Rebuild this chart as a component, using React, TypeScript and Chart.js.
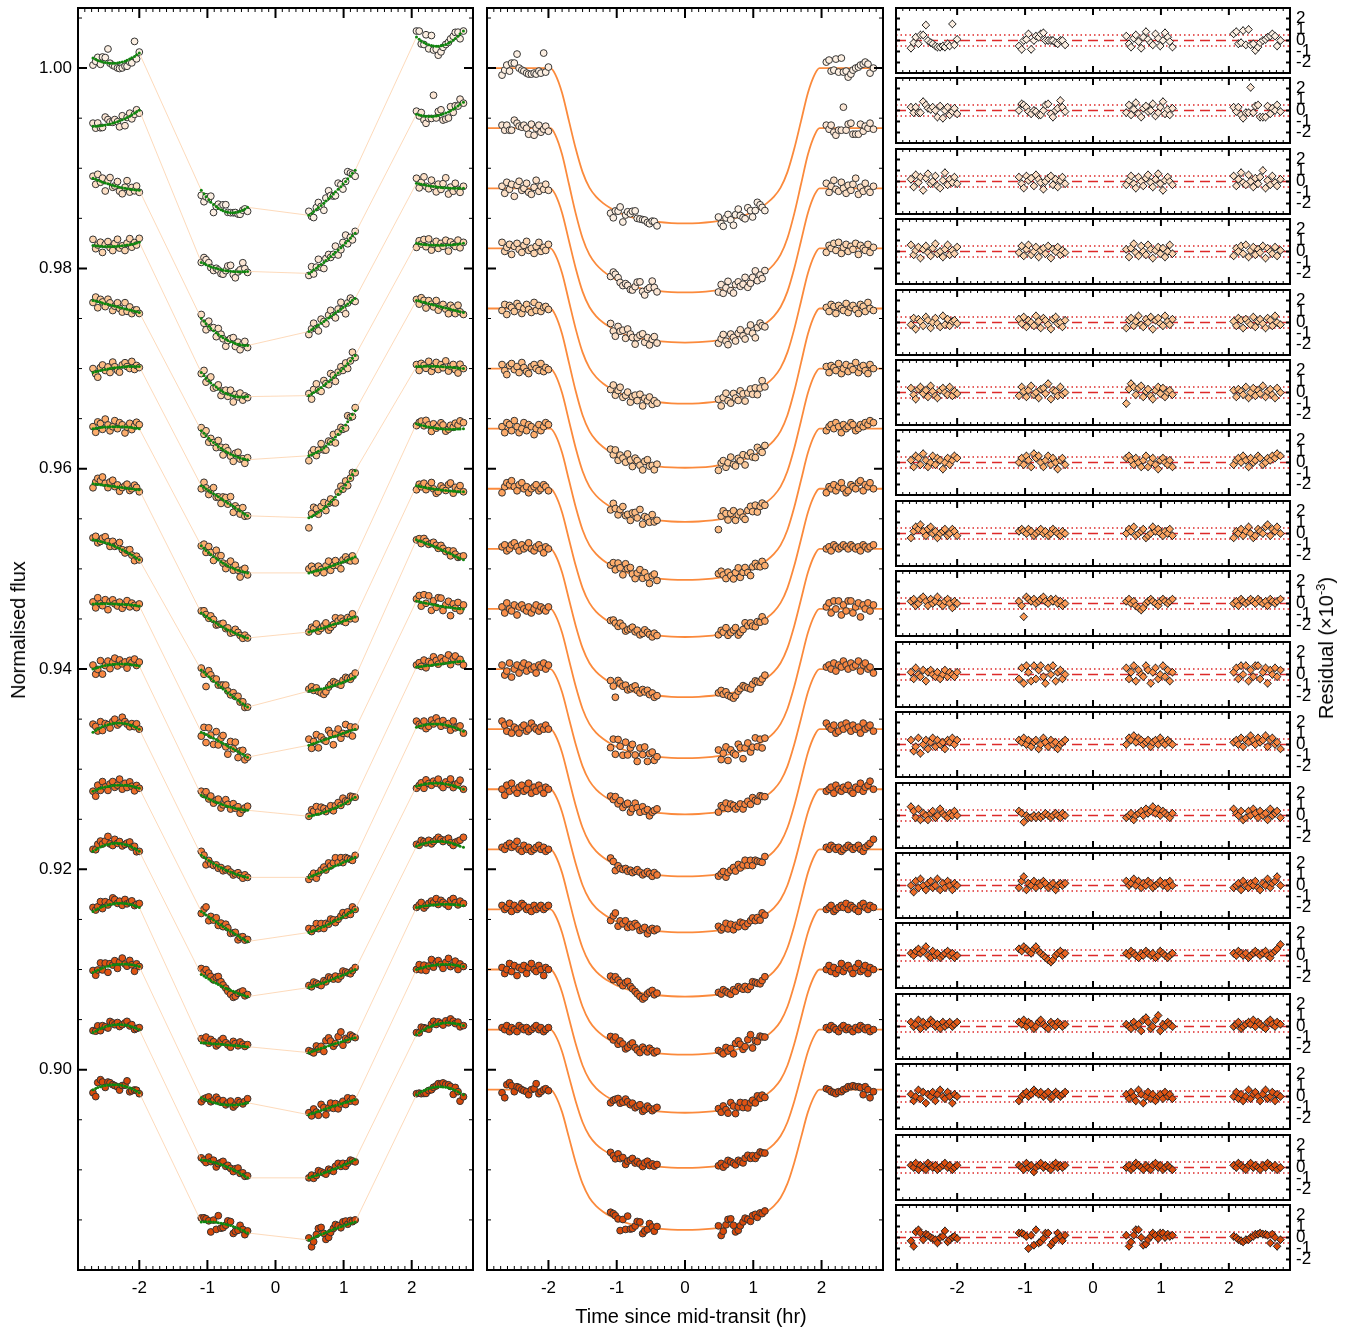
import React, { useEffect, useRef } from 'react';
import { Chart, registerables } from 'chart.js';
Chart.register(...registerables);

// ---------------- data ----------------
const TIMES = [
  -2.68, -2.64, -2.61, -2.57, -2.54, -2.50, -2.46, -2.43, -2.39, -2.36, -2.32, -2.29, -2.25, -2.21, -2.18, -2.14, -2.11, -2.07, -2.04, -2.00,
  -1.09, -1.05, -1.02, -0.98, -0.95, -0.91, -0.87, -0.84, -0.80, -0.77, -0.73, -0.70, -0.66, -0.62, -0.59, -0.55, -0.52, -0.48, -0.45, -0.41,
  0.49, 0.53, 0.56, 0.60, 0.63, 0.67, 0.71, 0.74, 0.78, 0.81, 0.85, 0.88, 0.92, 0.96, 0.99, 1.03, 1.06, 1.10, 1.13, 1.17,
  2.07, 2.11, 2.14, 2.18, 2.21, 2.25, 2.29, 2.32, 2.36, 2.39, 2.43, 2.46, 2.50, 2.54, 2.57, 2.61, 2.64, 2.68, 2.71, 2.76,
];

const BASELINES = [1.000, 0.994, 0.988, 0.982, 0.976, 0.970, 0.964, 0.958, 0.952, 0.946, 0.940, 0.934, 0.928, 0.922, 0.916, 0.910, 0.904, 0.898];

// transit depth per light curve (units of 1e-4)
const DEPTHS = [155, 164, 154, 155, 159, 153, 151, 148, 148, 149, 145, 147, 143, 147, 145, 143, 138, 140];

// normalised transit profile vs |t| (hr)
const SHAPE_T = [0, 0.2, 0.4, 0.6, 0.8, 1.0, 1.1, 1.2, 1.3, 1.4, 1.5, 1.6, 1.7, 1.8, 1.9, 1.97, 2.9];
const SHAPE_D = [1, 0.998, 0.991, 0.978, 0.958, 0.925, 0.90, 0.87, 0.83, 0.77, 0.67, 0.52, 0.34, 0.16, 0.04, 0, 0];

// raw (left panel) model level per cluster: [start, mid, end] x 4 clusters, units of 1e-4 relative to baseline
const LEFT_TREND = [
  [10, 5, 15, -122, -143, -139, -147, -127, -102, 31, 22, 37],
  [2, 6, 18, -134, -142, -143, -145, -127, -105, 14, 13, 26],
  [10, 2, -2, -130, -150, -157, -143, -127, -110, 5, 1, 0],
  [3, 2, 6, -124, -144, -148, -147, -130, -107, 5, 3, 5],
  [8, 2, -4, -122, -142, -151, -147, -132, -102, 8, 2, -4],
  [-4, 1, 2, -117, -132, -147, -149, -132, -102, 2, 2, 0],
  [0, 2, 0, -117, -135, -144, -144, -137, -128, 5, 0, 0],
  [5, 2, -1, -124, -139, -149, -143, -136, -128, 3, -1, -3],
  [9, 2, -11, -121, -141, -158, -142, -137, -128, 9, 0, -11],
  [5, 5, 3, -123, -135, -148, -136, -128, -120, 8, 3, 0],
  [0, 5, 3, -126, -136, -141, -147, -140, -128, 2, 5, 8],
  [-3, 6, 0, -126, -140, -148, -148, -138, -128, 2, 5, -2],
  [-2, 4, 1, -122, -138, -152, -143, -133, -120, 3, 6, 0],
  [-2, 6, -2, -125, -138, -147, -138, -130, -120, 3, 8, 2],
  [-2, 6, 2, -133, -135, -137, -143, -135, -128, 2, 5, 4],
  [-3, 5, 3, -128, -135, -133, -145, -137, -130, 0, 5, 3],
  [-3, 5, 0, -130, -136, -148, -148, -140, -130, -5, 6, 4],
  [0, 5, -3, -132, -134, -143, -150, -140, -132, -5, 3, -5],
];

// residuals (units of 1e-4), 20 points per cluster
const RESIDUALS = [
  [-7, -2, 3, -3, 5, 5, 14, 0, -2, -3, -5, -6, -6, -5, -6, -3, -5, 15, -4, 1,
   -5, -8, 0, 1, 6, -8, 0, 4, 3, 6, 7, 0, 0, 0, 0, -2, -3, 0, 0, -4,
   4, -3, -6, 2, 5, -1, -7, 3, 8, 1, -2, -4, 6, 2, -5, 0, 7, 3, -1, -6,
   6, 8, -3, -2, 9, -4, 10, -4, -3, -9, -6, -2, 0, 1, 3, 4, 6, 4, -5, 0],
  [3, -2, 3, -2, -2, 8, 5, 2, 1, 3, 0, -6, 4, -7, 0, 3, -4, -1, 2, -3,
   0, 6, 5, 3, -1, -3, 0, -1, -4, -4, 0, 5, 6, -3, -6, 0, 2, 9, 3, -1,
   -2, 5, -4, 1, 7, -3, -6, 2, 4, -1, 0, 6, -5, -2, 3, 8, -3, 1, -4, 2,
   3, -1, 3, -4, -7, -2, -2, 21, -2, 4, 5, -6, -6, -6, 4, -3, 2, 0, 5, -1],
  [2, -5, 6, -1, 4, -8, 3, 7, -2, 0, 5, -4, -6, 1, 8, -3, 2, -1, 4, -2,
   4, -2, -6, 5, 1, 3, -4, 6, 2, -1, -7, 0, 3, 5, -3, 2, -5, 1, 4, -2,
   -3, 1, 5, -2, -6, 4, 0, -4, 3, 6, -1, -5, 2, 7, -2, -8, 1, 4, 0, -3,
   5, -4, 2, 8, -1, -3, 6, 0, -5, 3, -2, 4, 10, -6, 1, -3, 5, -1, -4, 2],
  [6, -3, 1, 4, -6, 2, 5, -1, -4, 3, 7, -2, 0, -5, 2, 6, -3, 1, -2, 4,
   -1, 5, -4, 2, 6, -3, 0, 4, -5, 1, 3, -2, 5, -6, 2, 0, 4, -3, 1, -1,
   2, -5, 3, 7, -1, -4, 5, 0, -3, 6, 2, -6, 1, 4, -2, 3, -5, 0, 6, -2,
   -4, 3, 0, 5, -2, 6, -5, 1, 4, -3, 2, -1, 5, -6, 3, 0, -2, 4, -4, 1],
  [-2, 4, -6, 3, 1, -3, 5, 2, -5, 0, 4, -1, -4, 6, -2, 3, -3, 1, 2, -1,
   3, -1, 5, -4, 2, 0, -3, 6, 1, -5, 4, 2, -2, -6, 3, 5, -1, 0, -4, 2,
   -5, 2, 4, -3, 1, 6, -2, -4, 3, 0, 5, -6, 2, 4, -1, -3, 6, 1, -2, 3,
   1, -3, 4, 2, -5, 3, 0, -2, 5, -4, 1, 3, -1, -5, 4, 2, -3, 6, 0, -2],
  [4, -2, -6, 3, 5, -1, 2, -4, 6, 1, -3, -5, 2, 4, 0, -2, 5, -3, 1, -1,
   -3, 5, 1, -4, 2, 6, -2, 0, -5, 3, 4, -1, 8, -6, 2, 1, -3, 5, -2, 0,
   -10, 3, 8, 5, -2, 4, 6, -4, 1, 3, -3, -6, 2, 5, -1, 4, -4, 0, 2, -2,
   2, -4, 3, 1, -2, 5, -5, 0, 4, -3, 2, -1, 6, -4, 1, 3, -2, -5, 4, 0],
  [2, -4, 6, 4, -2, 8, 2, -4, 0, 6, -2, 4, 2, -6, 0, 4, -2, 2, 6, 4,
   0, 4, -2, 6, 2, -4, 8, 4, 6, 0, -4, 2, 6, -2, 4, 0, -6, 2, 4, -2,
   4, 6, 2, -2, 4, 0, -4, 2, 6, -4, 0, 4, -2, -6, 2, 4, 0, -2, 2, -4,
   -2, 2, 4, 0, 6, 2, -4, 4, 0, 2, 6, 4, -2, 0, 4, 2, 6, 4, 8, 6],
  [-4, 2, 6, 4, 8, 2, -2, 4, 6, 0, 2, -4, 0, 2, 4, -2, 0, 4, 2, -2,
   2, 4, 2, 0, 4, 2, -2, 0, 2, 4, 0, 2, -2, 0, 4, 2, 0, -2, 2, 0,
   0, 4, 2, 6, -2, 0, 2, 4, -4, -2, 0, 6, 2, 4, 0, -2, 2, 0, 4, -2,
   -4, 2, 0, 4, -2, 2, 6, 0, -4, -2, 4, 2, 0, 6, 8, -2, 4, 2, 6, 0],
  [2, 4, -2, 0, 4, 6, 2, -2, 4, 0, 2, 6, 0, -2, 2, 4, 0, -4, 2, 0,
   2, -2, -12, 6, 4, 2, 4, 0, 2, 4, 6, 2, 0, 4, 2, 4, 0, 2, -2, 0,
   2, 4, 0, 2, -2, -4, -6, -4, 0, 2, 4, 2, 0, -2, 2, 4, 2, 0, 2, 4,
   0, 2, -2, 4, 2, 0, 2, 4, 2, 0, 4, 2, 0, 2, -2, 4, 2, 0, 2, 4],
  [2, -4, 6, 0, -2, 4, -6, 2, 4, 0, -2, 2, -4, 0, 4, -2, 2, 0, -2, 2,
   -4, 6, -8, 8, 2, -6, 8, -4, 4, 8, -2, -8, 6, 0, 8, -6, 2, 4, -4, 0,
   6, -4, 2, 8, -6, 4, 0, -2, 8, 4, -8, 2, 6, -4, 0, 8, -2, 4, -6, 2,
   2, 6, -4, 8, 0, 8, -6, 4, -2, 8, 8, -4, 2, 6, -8, 4, 0, 6, -2, 4],
  [4, -6, -2, 6, -8, 0, 4, -4, 2, 6, -2, 4, 0, 2, -4, 4, 2, 6, 0, 4,
   4, 2, 6, 0, 4, -2, 2, 4, -4, 0, 6, 2, -2, 4, 0, 2, -4, 0, 2, 4,
   0, 6, 4, 8, 2, 6, 4, 0, 2, 4, -2, 2, 4, 0, 6, 2, 0, 4, 2, 0,
   2, 4, 0, 6, -2, 4, 2, 8, 4, 0, 6, 2, 4, 8, -2, 4, 6, 0, 2, -4],
  [8, 4, -2, 6, -4, 2, 0, -4, 2, 4, -2, 0, 6, 2, 0, -2, 2, 0, 4, 0,
   4, 2, -6, 0, -2, -2, 0, -2, 0, -2, 0, 2, 0, -2, 0, 2, 0, -2, 2, 0,
   -2, 0, 2, -4, 0, 2, 4, 0, 6, 2, 4, 8, 2, 6, 0, 4, 2, 0, -2, 2,
   6, 2, 0, 4, -4, -2, 4, 0, 6, 2, -2, 4, 0, 2, -4, 6, 0, 2, 4, -2],
  [0, -6, 4, -2, 6, 0, -4, 2, 4, -2, 0, 6, -4, 2, -2, 4, 0, -4, 2, 0,
   -2, 4, 8, -4, 2, 0, 4, -2, 2, 0, 4, 2, -2, 0, 2, -4, 0, 2, 0, 2,
   4, 0, 2, 6, 0, 4, -2, 2, 0, 4, 2, -2, 0, 2, 4, 0, 2, -2, 4, 0,
   -2, 0, 2, -4, 4, 0, -2, 2, 0, 4, -2, -4, 2, 0, 6, -2, 2, 4, 8, 0],
  [2, 0, 4, 6, 2, 4, 8, 0, -2, 4, 0, 2, -2, 0, 2, 4, 0, 2, -2, 0,
   6, 4, 8, 6, 4, 2, 6, 8, 4, 2, 0, -2, -4, -6, -4, 0, 2, 4, 0, 2,
   2, 0, 4, 2, 0, -2, 2, 0, 4, 2, 0, 2, -2, 0, 4, 2, 0, -2, 0, 2,
   2, 0, 4, 2, 0, 2, -2, 0, 2, 4, 2, 0, 2, 4, 0, -2, 2, 4, 6, 10],
  [4, 0, 2, 6, -2, 4, 0, 2, 6, 4, 0, 2, -2, 4, 0, 2, 4, 0, 2, 4,
   4, 2, 6, 0, 4, 2, -2, 0, 4, 6, 2, 0, -2, 4, 2, 0, 4, 2, 0, 2,
   2, 0, -2, 4, 0, 2, -4, 6, 8, 4, -2, 0, 6, 10, -4, 2, 0, 4, 2, 0,
   0, 2, 4, -2, 0, 2, 4, 2, 6, 0, 4, 2, 0, -2, 4, 6, 2, 0, 4, 2],
  [2, -4, 0, 6, -2, 4, -6, 2, 0, 4, -4, 2, 6, 0, -2, 4, 0, -6, 2, 0,
   -4, 0, 2, 4, 0, 2, 6, 4, 2, 4, 0, 2, 4, -2, 0, 4, 2, 0, 2, 4,
   2, -2, 4, 0, -4, 6, 2, -6, 0, 4, -2, 2, -4, 0, 2, -2, 4, 0, 2, -2,
   0, 4, -2, 2, -4, 0, 6, -2, 2, 4, 0, -4, 2, 6, -2, 0, 4, -4, 2, 0],
  [2, 0, 4, -2, 2, 0, -2, 4, 2, 0, 2, -2, 0, 2, 4, 0, 2, -2, 0, 2,
   2, 0, -2, 4, 0, 2, -4, 0, 2, 4, 0, 2, 0, -2, 2, 4, 0, 2, 0, 2,
   0, 2, -2, 0, 4, 2, 0, -2, 2, 0, -2, 2, 4, 0, 2, -2, 0, 2, 0, -2,
   2, 0, 4, 2, 0, -2, 2, 4, 0, 2, 0, -2, 2, 0, 4, 2, 0, 2, -2, 0],
  [-3, -8, 5, 7, 4, -2, 3, 2, 0, -1, -2, -5, 0, 1, 6, -4, -2, 0, 1, -1,
   4, 4, 3, 1, -10, 2, -7, 7, -5, -4, -1, 4, 4, -7, -4, -2, 4, 1, -3, 2,
   2, -8, -4, 2, 7, 7, 0, -7, -6, -2, 1, 4, 2, -1, 4, 4, 0, 3, 1, 2,
   1, 0, -2, -3, -4, -2, -2, 0, 1, 3, 3, 4, 3, 3, 2, -5, 3, 0, -8, -2],
];

const COLORS = [
  '#fcefe2', '#fce6d4', '#fde0c6', '#fdd5b0', '#fdca9a', '#fdbb82',
  '#fdad6c', '#fda35f', '#fc9a55', '#fb904a', '#f88540', '#f47a35',
  '#ee6c28', '#ea6420', '#e55b18', '#e05312', '#dc4e0e', '#d8490a',
];

const X_MIN = -2.9, X_MAX = 2.9;
const Y_MIN = 0.88, Y_MAX = 1.006;
const R_MIN = -2.95, R_MAX = 2.95;
const RMS_LINE = 0.5;
const ERR_BAR = 0.38;

const FONT_FAMILY = '"Liberation Sans", Arial, Helvetica, sans-serif';
const TICK_FONT = `17px ${FONT_FAMILY}`;

// ---------------- helpers ----------------
function shapeAt(t: number) {
  const a = Math.abs(t);
  for (let i = 0; i < SHAPE_T.length - 1; i++) {
    if (a <= SHAPE_T[i + 1]) {
      const f = (a - SHAPE_T[i]) / (SHAPE_T[i + 1] - SHAPE_T[i]);
      return SHAPE_D[i] + f * (SHAPE_D[i + 1] - SHAPE_D[i]);
    }
  }
  return 0;
}

function trendAt(i: number, k: number) {
  const c = Math.floor(k / 20);
  const u = (k % 20) / 19;
  const s = LEFT_TREND[i][3 * c], m = LEFT_TREND[i][3 * c + 1], e = LEFT_TREND[i][3 * c + 2];
  return s * 2 * (u - 0.5) * (u - 1) + m * (-4 * u * (u - 1)) + e * 2 * u * (u - 0.5);
}

type FrameCfg = {
  xMinor: number; xRatio: number; xMajLen: number; xMinLen: number;
  yMinor: number; yRatio: number; yMajLen: number; yMinLen: number;
  xLabels: boolean; yLabelsLeft: boolean; yLabelsRight: boolean;
  yFmt: (v: number) => string; errBar?: number;
};

function makeFrame(cfg: FrameCfg) {
  return {
    id: 'frame',
    beforeDatasetDraw(chart: any, args: any) {
      if (!cfg.errBar) return;
      const ds = chart.data.datasets[args.index];
      if (!ds.errorBars) return;
      const { ctx, scales: { x, y } } = chart;
      ctx.save();
      ctx.strokeStyle = '#222';
      ctx.lineWidth = 1;
      ds.data.forEach((p: any) => {
        const px = x.getPixelForValue(p.x);
        ctx.beginPath();
        ctx.moveTo(px, y.getPixelForValue(p.y - cfg.errBar!));
        ctx.lineTo(px, y.getPixelForValue(p.y + cfg.errBar!));
        ctx.stroke();
      });
      ctx.restore();
    },
    afterDraw(chart: any) {
      const { ctx, chartArea: a, scales: { x, y } } = chart;
      ctx.save();
      ctx.strokeStyle = '#000';
      ctx.fillStyle = '#000';
      ctx.font = TICK_FONT;
      // x ticks
      const j0 = Math.ceil(x.min / cfg.xMinor - 1e-6), j1 = Math.floor(x.max / cfg.xMinor + 1e-6);
      for (let j = j0; j <= j1; j++) {
        const v = j * cfg.xMinor;
        const px = x.getPixelForValue(v);
        const major = j % cfg.xRatio === 0;
        const len = major ? cfg.xMajLen : cfg.xMinLen;
        ctx.lineWidth = major ? 2 : 1;
        ctx.beginPath();
        ctx.moveTo(px, a.bottom); ctx.lineTo(px, a.bottom - len);
        ctx.moveTo(px, a.top); ctx.lineTo(px, a.top + len);
        ctx.stroke();
        if (major && cfg.xLabels) {
          ctx.textAlign = 'center';
          ctx.textBaseline = 'middle';
          ctx.fillText(String(Math.round(v)), px, a.bottom + 18);
        }
      }
      // y ticks
      const k0 = Math.ceil(y.min / cfg.yMinor - 1e-6), k1 = Math.floor(y.max / cfg.yMinor + 1e-6);
      for (let k = k0; k <= k1; k++) {
        const v = k * cfg.yMinor;
        const py = y.getPixelForValue(v);
        const major = k % cfg.yRatio === 0;
        const len = major ? cfg.yMajLen : cfg.yMinLen;
        ctx.lineWidth = major ? 2 : 1;
        ctx.beginPath();
        ctx.moveTo(a.left, py); ctx.lineTo(a.left + len, py);
        ctx.moveTo(a.right, py); ctx.lineTo(a.right - len, py);
        ctx.stroke();
        if (major && py > a.top + 3 && py < a.bottom - 3) {
          ctx.textBaseline = 'middle';
          if (cfg.yLabelsLeft) {
            ctx.textAlign = 'right';
            ctx.fillText(cfg.yFmt(v), a.left - 6, py);
          }
          if (cfg.yLabelsRight) {
            ctx.textAlign = 'left';
            ctx.fillText(cfg.yFmt(v), a.right + 6, py);
          }
        }
      }
      ctx.lineWidth = 2;
      ctx.strokeRect(a.left, a.top, a.right - a.left, a.bottom - a.top);
      ctx.restore();
    },
  };
}

function baseOptions(pad: { left: number; right: number; top: number; bottom: number }, ymin: number, ymax: number) {
  return {
    animation: false as const,
    responsive: false,
    devicePixelRatio: 1,
    events: [] as any[],
    layout: { padding: pad },
    plugins: { legend: { display: false }, tooltip: { enabled: false } },
    scales: {
      x: { type: 'linear' as const, min: X_MIN, max: X_MAX, display: false },
      y: { type: 'linear' as const, min: ymin, max: ymax, display: false },
    },
  };
}

// ---------------- chart builders ----------------
function buildLeft() {
  const datasets: any[] = [];
  BASELINES.forEach((b, i) => {
    const model = TIMES.map((t, k) => ({ x: t, y: b + 1e-4 * trendAt(i, k) }));
    const pts = TIMES.map((t, k) => ({ x: t, y: b + 1e-4 * (trendAt(i, k) + RESIDUALS[i][k]) }));
    datasets.push({
      data: model, showLine: true, borderColor: '#fdd0aa', borderWidth: 0.8,
      pointRadius: 1.5, pointBackgroundColor: '#0f850f', pointBorderWidth: 0, order: 1,
    });
    datasets.push({
      data: pts, showLine: false, pointRadius: 3.4, pointBackgroundColor: COLORS[i],
      pointBorderColor: '#333', pointBorderWidth: 1, order: 2,
    });
  });
  return {
    type: 'scatter' as const,
    data: { datasets },
    options: baseOptions({ left: 78, right: 7, top: 8, bottom: 40 }, Y_MIN, Y_MAX),
    plugins: [makeFrame({
      xMinor: 0.1, xRatio: 10, xMajLen: 10, xMinLen: 4,
      yMinor: 0.005, yRatio: 4, yMajLen: 9, yMinLen: 4,
      xLabels: true, yLabelsLeft: true, yLabelsRight: false, yFmt: (v) => v.toFixed(2),
    })],
  };
}

function buildMiddle() {
  const datasets: any[] = [];
  const knots: number[] = [];
  for (let i = SHAPE_T.length - 1; i > 0; i--) knots.push(-SHAPE_T[i]);
  SHAPE_T.forEach((t) => knots.push(t));
  BASELINES.forEach((b, i) => {
    const line = knots.map((t) => ({ x: t, y: b - 1e-4 * DEPTHS[i] * shapeAt(t) }));
    const pts = TIMES.map((t, k) => ({ x: t, y: b - 1e-4 * DEPTHS[i] * shapeAt(t) + 1e-4 * RESIDUALS[i][k] }));
    datasets.push({
      data: line, showLine: true, borderColor: '#fb8a3c', borderWidth: 1.8,
      cubicInterpolationMode: 'monotone', pointRadius: 0, order: 2,
    });
    datasets.push({
      data: pts, showLine: false, pointRadius: 3.4, pointBackgroundColor: COLORS[i],
      pointBorderColor: '#333', pointBorderWidth: 1, order: 1,
    });
  });
  return {
    type: 'scatter' as const,
    data: { datasets },
    options: baseOptions({ left: 7, right: 7, top: 8, bottom: 40 }, Y_MIN, Y_MAX),
    plugins: [makeFrame({
      xMinor: 0.1, xRatio: 10, xMajLen: 10, xMinLen: 4,
      yMinor: 0.005, yRatio: 4, yMajLen: 9, yMinLen: 4,
      xLabels: true, yLabelsLeft: false, yLabelsRight: false, yFmt: (v) => v.toFixed(2),
    })],
  };
}

function buildResidual(i: number, bottomPad: number, isLast: boolean) {
  const pts = TIMES.map((t, k) => ({ x: t, y: RESIDUALS[i][k] / 10 }));
  const hline = (v: number) => [{ x: X_MIN, y: v }, { x: X_MAX, y: v }];
  const datasets: any[] = [
    { data: hline(0), showLine: true, borderColor: '#dd2a2a', borderWidth: 1.5, borderDash: [10, 6], pointRadius: 0, order: 3 },
    { data: hline(RMS_LINE), showLine: true, borderColor: '#dd2a2a', borderWidth: 1.5, borderDash: [1.5, 3], pointRadius: 0, order: 3 },
    { data: hline(-RMS_LINE), showLine: true, borderColor: '#dd2a2a', borderWidth: 1.5, borderDash: [1.5, 3], pointRadius: 0, order: 3 },
    {
      data: pts, showLine: false, pointStyle: 'rectRot', pointRadius: 3.8, pointBackgroundColor: COLORS[i],
      pointBorderColor: '#222', pointBorderWidth: 1, order: 1, errorBars: true,
    },
  ];
  return {
    type: 'scatter' as const,
    data: { datasets },
    options: baseOptions({ left: 7, right: 57, top: 6, bottom: bottomPad }, R_MIN, R_MAX),
    plugins: [makeFrame({
      xMinor: 0.1, xRatio: 10, xMajLen: 7, xMinLen: 3,
      yMinor: 1, yRatio: 1, yMajLen: 4, yMinLen: 4,
      xLabels: isLast, yLabelsLeft: false, yLabelsRight: true, yFmt: (v) => String(Math.round(v)),
      errBar: ERR_BAR,
    })],
  };
}

// ---------------- components ----------------
function ChartBox(props: { left: number; top: number; width: number; height: number; build: () => any }) {
  const ref = useRef<HTMLCanvasElement>(null);
  useEffect(() => {
    const chart = new Chart(ref.current as HTMLCanvasElement, props.build());
    return () => chart.destroy();
  }, []);
  return (
    <canvas
      ref={ref}
      width={props.width}
      height={props.height}
      style={{ position: 'absolute', left: props.left, top: props.top, width: props.width, height: props.height }}
    />
  );
}

const titleStyle: React.CSSProperties = {
  position: 'absolute',
  font: `20px ${FONT_FAMILY}`,
  whiteSpace: 'nowrap',
  color: '#000',
  lineHeight: '24px',
};

export default function App() {
  const panels = BASELINES.map((_, k) => {
    const top = Math.round(8 + 70.41 * k);
    const bottom = Math.round(8 + 70.41 * k + 65);
    const isLast = k === BASELINES.length - 1;
    const extra = isLast ? 34 : 6;
    return (
      <ChartBox
        key={k}
        left={889}
        top={top - 6}
        width={458}
        height={bottom - top + 6 + extra}
        build={() => buildResidual(k, extra, isLast)}
      />
    );
  });
  return (
    <div style={{ position: 'absolute', left: 0, top: 0, width: 1347, height: 1328, background: '#fff', overflow: 'hidden' }}>
      <ChartBox left={0} top={0} width={480} height={1310} build={buildLeft} />
      <ChartBox left={480} top={0} width={410} height={1310} build={buildMiddle} />
      {panels}
      <div style={{ ...titleStyle, left: 18, top: 630, transform: 'translate(-50%,-50%) rotate(-90deg)' }}>Normalised flux</div>
      <div style={{ ...titleStyle, left: 691, top: 1316, transform: 'translate(-50%,-50%)' }}>Time since mid-transit (hr)</div>
      <div style={{ ...titleStyle, left: 1326, top: 648, transform: 'translate(-50%,-50%) rotate(-90deg)' }}>
        Residual (×10<sup style={{ fontSize: '13px', lineHeight: 0 }}>-3</sup>)
      </div>
    </div>
  );
}
